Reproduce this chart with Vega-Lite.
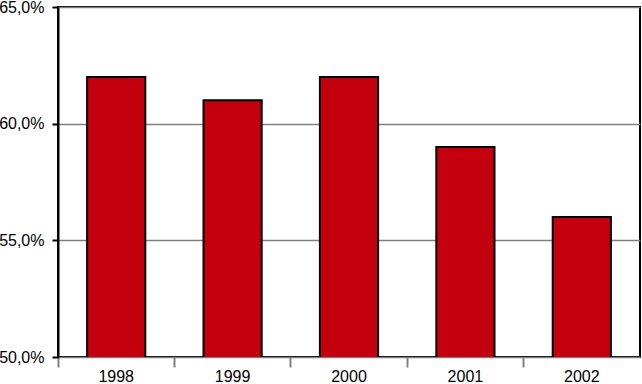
{
  "$schema": "https://vega.github.io/schema/vega-lite/v6.json",
  "width": 582,
  "height": 350,
  "autosize": {"type": "none"},
  "padding": {"left": 58, "top": 7, "right": 2, "bottom": 27},
  "data": {"values": [
    {"year": "1998", "value": 62},
    {"year": "1999", "value": 61},
    {"year": "2000", "value": 62},
    {"year": "2001", "value": 59},
    {"year": "2002", "value": 56}
  ]},
  "mark": {"type": "bar", "color": "#c4000e", "stroke": "#000000", "strokeWidth": 2, "width": {"band": 0.5}, "clip": true},
  "encoding": {
    "x": {
      "field": "year", "type": "ordinal",
      "scale": {"paddingInner": 0, "paddingOuter": 0},
      "axis": {"title": null, "labelAngle": 0, "bandPosition": 0, "tickColor": "#808080", "tickWidth": 2, "tickSize": 10, "domain": false, "labelFont": "Liberation Sans", "labelFontSize": 16, "labelColor": "#000000", "labelPadding": 1}
    },
    "y": {
      "field": "value", "type": "quantitative",
      "scale": {"domain": [50, 65], "nice": false, "zero": false},
      "axis": {"title": null, "values": [50, 55, 60, 65], "labelExpr": "replace(format(datum.value, '.1f'), '.', ',') + '%'", "tickColor": "#000000", "tickWidth": 2, "tickSize": 6, "labelPadding": 8, "gridColor": "#808080", "gridWidth": 1.5, "domainColor": "#000000", "domainWidth": 2, "labelFont": "Liberation Sans", "labelFontSize": 16, "labelColor": "#000000"}
    }
  },
  "config": {"view": {"stroke": "#000000", "strokeWidth": 2}, "background": "#ffffff"}
}
